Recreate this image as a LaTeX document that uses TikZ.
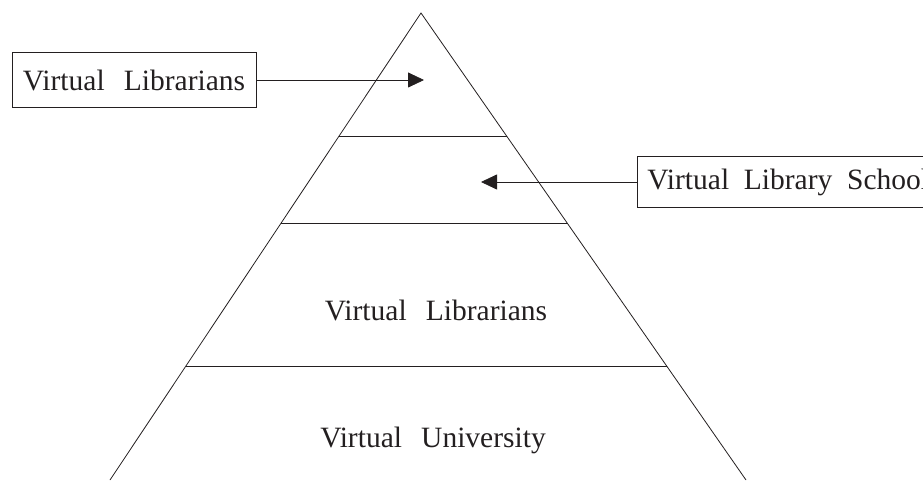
\documentclass[tikz,border=0pt]{standalone}
\usepackage{fontspec}
\setmainfont{Liberation Serif}
\usetikzlibrary{arrows.meta}
\definecolor{ink}{RGB}{35,31,32}
\tikzset{
  label text/.style={font={\fontsize{29.5}{30}\selectfont\spaceskip=0.65em\relax}, text=ink, inner sep=0pt},
  label box/.style={label text, draw=ink, line width=0.8pt, minimum height=55pt, inner xsep=11pt},
  pointer/.style={draw=ink, line width=0.8pt, -{Triangle[length=16pt,width=15pt]}}
}
\begin{document}
\begin{tikzpicture}[x=1pt, y=1pt]
\useasboundingbox (0,0) rectangle (923,480);

\draw[ink, line width=0.8pt] (110,0) -- (421,467) -- (746,0);
\draw[ink, line width=0.8pt] (339,344) -- (507,344);
\draw[ink, line width=0.8pt] (281,257) -- (567,257);
\draw[ink, line width=0.8pt] (186,114) -- (667,114);

\node[label text] (mid) at (436,170) {Virtual Librarians};
\node[label text] (base) at (433,40) {Virtual University};

\node[label box] (top) at (134,400) {Virtual Librarians};
\node[label box, anchor=west, minimum height=51pt, inner xsep=10pt,
  font={\fontsize{29.5}{30}\selectfont\spaceskip=0.5em\relax}] (school) at (637,298) {Virtual Library School};

\coordinate (topin) at (424,400);
\coordinate (schoolin) at (481,298);

\draw[pointer] (top.east) -- (topin);
\draw[pointer] (school.west) -- (schoolin);

\end{tikzpicture}
\end{document}
